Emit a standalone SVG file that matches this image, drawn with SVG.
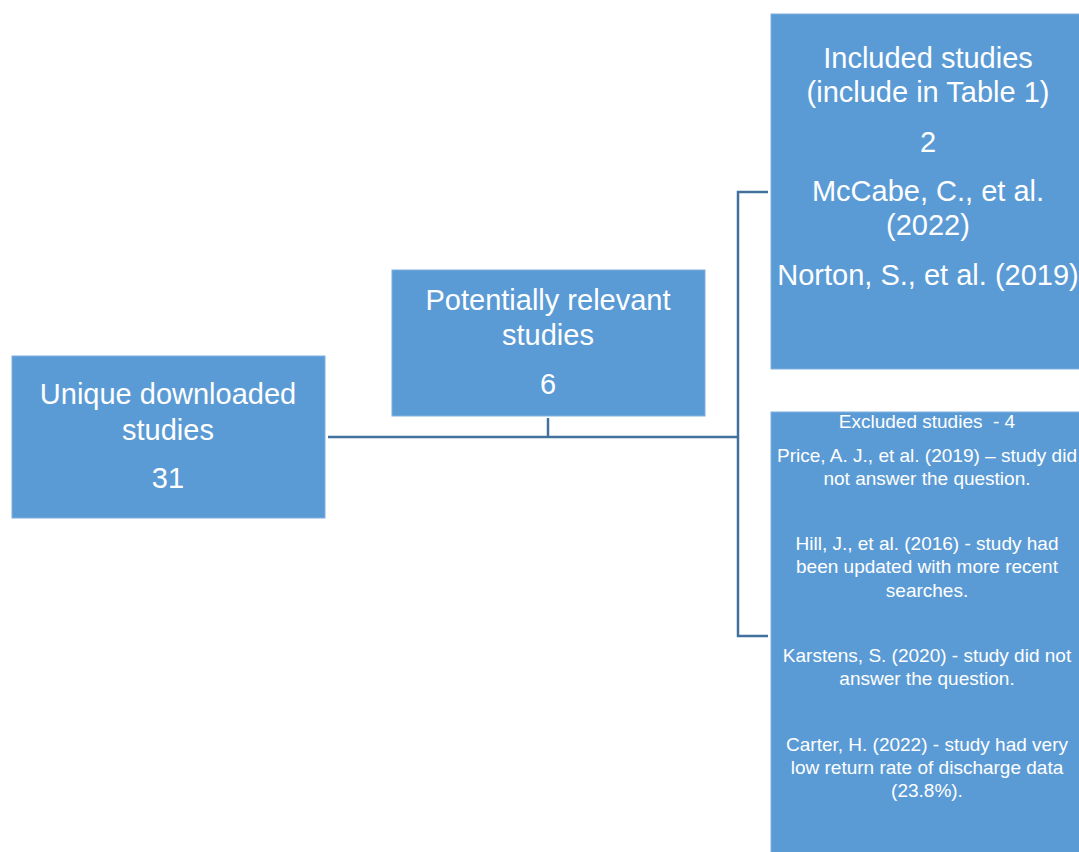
<svg xmlns="http://www.w3.org/2000/svg" width="1079" height="852" viewBox="0 0 1079 852">
<style>
.box{fill:#5B9BD5;stroke:#7EB0E0;stroke-width:1}
.t{font-family:"Liberation Sans",Arial,sans-serif;fill:#FFFFFF;text-anchor:middle}
.big{font-size:29px}
.small{font-size:19px}
.conn{fill:none;stroke:#41719C;stroke-width:2.5}
</style>
<rect width="1079" height="852" fill="#FFFFFF"/>
<g id="connectors">
<path class="conn" d="M328,437 H738"/>
<path class="conn" d="M548,418 V437"/>
<path class="conn" d="M768,192 H738 V636 H768"/>
</g>
<g id="unique">
<rect class="box" x="12" y="356" width="313" height="162"/>
<text class="t big" x="168" y="404">Unique downloaded</text>
<text class="t big" x="168" y="440">studies</text>
<text class="t big" x="168" y="488">31</text>
</g>
<g id="relevant">
<rect class="box" x="392" y="270" width="313" height="146"/>
<text class="t big" x="548" y="310">Potentially relevant</text>
<text class="t big" x="548" y="345">studies</text>
<text class="t big" x="548" y="394">6</text>
</g>
<g id="included">
<rect class="box" x="771" y="14" width="320" height="355"/>
<text class="t big" x="928" y="68">Included studies</text>
<text class="t big" x="928" y="102">(include in Table 1)</text>
<text class="t big" x="928" y="152">2</text>
<text class="t big" x="928" y="201">McCabe, C., et al.</text>
<text class="t big" x="928" y="235">(2022)</text>
<text class="t big" x="928" y="285">Norton, S., et al. (2019)</text>
</g>
<g id="excluded">
<rect class="box" x="771" y="412" width="320" height="450"/>
<text class="t small" x="927" y="428" xml:space="preserve">Excluded studies  - 4</text>
<text class="t small" x="927" y="462">Price, A. J., et al. (2019) – study did</text>
<text class="t small" x="927" y="485">not answer the question.</text>
<text class="t small" x="927" y="550">Hill, J., et al. (2016) - study had</text>
<text class="t small" x="927" y="573">been updated with more recent</text>
<text class="t small" x="927" y="597">searches.</text>
<text class="t small" x="927" y="662">Karstens, S. (2020) - study did not</text>
<text class="t small" x="927" y="685">answer the question.</text>
<text class="t small" x="927" y="751">Carter, H. (2022) - study had very</text>
<text class="t small" x="927" y="774">low return rate of discharge data</text>
<text class="t small" x="927" y="797">(23.8%).</text>
</g>
</svg>
